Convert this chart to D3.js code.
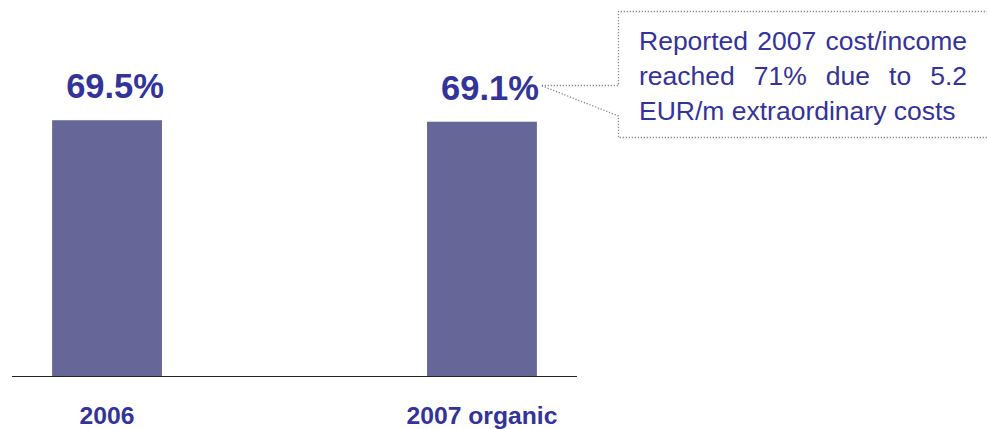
<!DOCTYPE html>
<html>
<head>
<meta charset="utf-8">
<script src="https://cdn.jsdelivr.net/npm/d3@7/dist/d3.min.js"></script>
<style>
  html, body { margin: 0; padding: 0; background: #fff; }
  svg { display: block; font-family: "Liberation Sans", Arial, sans-serif; }
</style>
</head>
<body>
<svg id="chart" width="987" height="429"></svg>
<script>
// Cost/income ratio
const categories = ["2006", "2007 organic"];
const values = [69.5, 69.1];
const valueLabels = ["69.5%", "69.1%"];
const noteLines = [
  "Reported 2007 cost/income",
  "reached 71% due to 5.2",
  "EUR/m extraordinary costs"
];

const svg = d3.select("#chart");
const textColor = "#333399";
const barColor = "#666699";

const baseY = 376;
const x = d3.scaleBand()
  .domain(categories)
  .range([12, 577])
  .paddingInner(0.707)
  .paddingOuter(0.107);

const y = d3.scaleLinear()
  .domain([0, 100])
  .range([baseY, 8]);

// bars
svg.append("g")
  .selectAll("rect")
  .data(values)
  .join("rect")
  .attr("x", (d, i) => x(categories[i]))
  .attr("y", d => y(d))
  .attr("width", x.bandwidth())
  .attr("height", d => y(0) - y(d))
  .attr("fill", barColor);

// baseline
svg.append("line")
  .attr("x1", 12).attr("x2", 577)
  .attr("y1", baseY + 0.5).attr("y2", baseY + 0.5)
  .attr("stroke", "#222")
  .attr("stroke-width", 1.2);

// value labels
svg.append("g")
  .selectAll("text")
  .data(values)
  .join("text")
  .attr("x", (d, i) => x(categories[i]) + x.bandwidth() / 2 + 8)
  .attr("y", d => y(d) - 22)
  .attr("text-anchor", "middle")
  .attr("font-size", 34.5)
  .attr("font-weight", "bold")
  .attr("fill", textColor)
  .text((d, i) => valueLabels[i]);

// category labels
svg.append("g")
  .selectAll("text")
  .data(categories)
  .join("text")
  .attr("x", d => x(d) + x.bandwidth() / 2)
  .attr("y", 424)
  .attr("text-anchor", "middle")
  .attr("font-size", 24.7)
  .attr("font-weight", "bold")
  .attr("fill", textColor)
  .text(d => d);

// callout box with pointer toward the 2007 label
const callout = d3.path();
callout.moveTo(1000, 11.5);
callout.lineTo(618.5, 11.5);
callout.lineTo(618.5, 85.5);
callout.lineTo(541, 85.5);
callout.lineTo(618.5, 116);
callout.lineTo(618.5, 137.5);
callout.lineTo(1000, 137.5);
svg.append("path")
  .attr("d", callout.toString())
  .attr("fill", "none")
  .attr("stroke", "#8a8a8a")
  .attr("stroke-width", 1.3)
  .attr("stroke-dasharray", "1.3,1.7");

// justified note text
const noteLeft = 639, noteRight = 967;
const noteG = svg.append("g")
  .attr("font-size", 26.5)
  .attr("fill", textColor);
noteLines.forEach((line, li) => {
  const yy = 50 + li * 35;
  const words = line.split(" ");
  if (li === noteLines.length - 1) {
    noteG.append("text").attr("x", noteLeft).attr("y", yy).text(line);
    return;
  }
  const nodes = words.map(w => noteG.append("text").attr("y", yy).text(w));
  const widths = nodes.map(n => n.node().getComputedTextLength());
  const total = d3.sum(widths);
  const gap = (noteRight - noteLeft - total) / (words.length - 1);
  let cx = noteLeft;
  nodes.forEach((n, i) => {
    n.attr("x", cx);
    cx += widths[i] + gap;
  });
});
</script>
</body>
</html>
